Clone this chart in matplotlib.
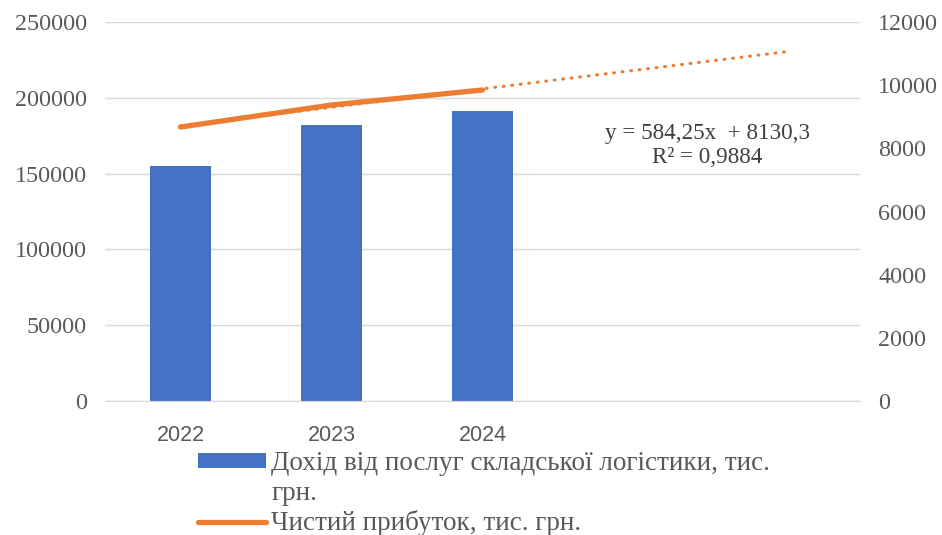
import numpy as np
import matplotlib.pyplot as plt
from matplotlib.patches import Patch

# дані з діаграми
years = ['2022', '2023', '2024']
income = [155000, 182000, 191300]      # Дохід від послуг складської логістики, тис. грн.
profit = [8675, 9372, 9847]            # Чистий прибуток, тис. грн.
trend_k, trend_b = 584.25, 8130.3      # лінійний тренд з підпису
trend_forward = 2                      # прогноз на 2 періоди вперед
left_ticks = [0, 50000, 100000, 150000, 200000, 250000]
right_ticks = [0, 2000, 4000, 6000, 8000, 10000, 12000]

bar_color = '#4472C4'
line_color = '#ED7D31'
txt_color = '#595959'
serif = ['Liberation Serif', 'DejaVu Serif']
sans = ['Liberation Sans', 'DejaVu Sans']

fig = plt.figure(figsize=(9.42, 5.35), dpi=100)
ax = fig.add_axes([105 / 942, 1 - 401 / 535, (860 - 105) / 942, (401 - 22) / 535])
ax2 = ax.twinx()

x = np.arange(len(years))
bars = ax.bar(x, income, width=0.4, color=bar_color, zorder=2)

# лінія прибутку і тренд
n_total = len(years) + trend_forward
xt = np.arange(1, n_total + 1)
ax2.plot(xt - 1, trend_k * xt + trend_b, color=line_color, lw=2.2,
         ls=(0, (0.3, 2.5)), dash_capstyle='round', zorder=3)
line, = ax2.plot(x, profit, color=line_color, lw=3.8,
                 solid_capstyle='round', zorder=4)

ax.set_xlim(-0.5, n_total - 0.5)
ax.set_ylim(0, 250000)
ax2.set_ylim(0, 12000)
ax.set_yticks(left_ticks)
ax2.set_yticks(right_ticks)
ax.set_xticks(x)
ax.set_xticklabels(years, fontfamily=sans, fontsize=15.5, color=txt_color)
for lab in ax.get_yticklabels() + ax2.get_yticklabels():
    lab.set_fontfamily(serif)
    lab.set_fontsize(17.4)
    lab.set_color(txt_color)

ax.tick_params(axis='both', length=0)
ax.tick_params(axis='y', pad=13)
ax.tick_params(axis='x', pad=17)
ax2.tick_params(axis='y', length=0, pad=13)

ax.grid(axis='y', color='#d9d9d9', lw=1, zorder=0)
ax.set_axisbelow(True)
for a in (ax, ax2):
    for s in a.spines.values():
        s.set_visible(False)
ax.spines['bottom'].set_visible(True)
ax.spines['bottom'].set_color('#d9d9d9')

# підпис рівняння тренду
ax2.text(3.49, 8080, 'y = 584,25x  + 8130,3\nR² = 0,9884', ha='center', va='center',
         fontfamily=serif, fontsize=16.7, color='#404040', linespacing=1.2)

# легенда: другий рядок першого підпису окремим рядком без маркера
blank = Patch(facecolor='none', edgecolor='none')
leg = fig.legend(handles=[bars, blank, line],
                 labels=['Дохід від послуг складської логістики, тис.', 'грн.',
                         'Чистий прибуток, тис. грн.'],
                 loc='upper left', bbox_to_anchor=(198 / 942, 1 - 451 / 535),
                 frameon=False, prop={'family': serif, 'size': 19.5}, labelcolor=txt_color,
                 handlelength=2.5, handleheight=0.45, handletextpad=0.2,
                 labelspacing=0.17, borderaxespad=0, borderpad=0)

fig.savefig('out.png', dpi=100)
